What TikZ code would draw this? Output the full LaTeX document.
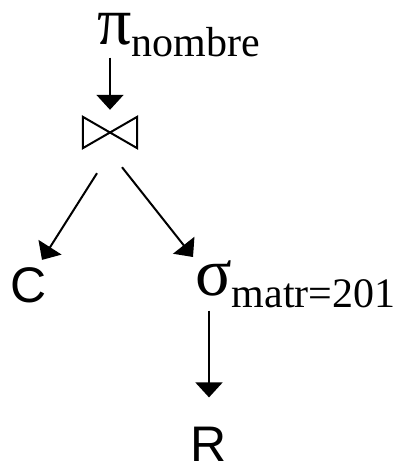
\documentclass[tikz,border=0pt]{standalone}
\usepackage{fontspec}
\setmainfont{Liberation Serif}
\newfontfamily\relfont{Liberation Sans}
\usetikzlibrary{arrows.meta,calc}

\newcommand{\opsym}{\fontsize{68}{68}\selectfont}
\newcommand{\opsub}[1]{\raisebox{-12pt}{\fontsize{42}{42}\selectfont #1}}
\newcommand{\relname}{\fontsize{50}{50}\selectfont\relfont}

\begin{document}
\begin{tikzpicture}[x=1pt, y=-1pt, >={Triangle[width=27pt,length=15pt]}]
    \useasboundingbox (0,0) rectangle (400,465);

    \node[anchor=base west, inner sep=0] (proj) at (97,45) {\opsym π\opsub{nombre}};
    \node[minimum width=54pt, minimum height=31pt, inner sep=0] (join) at (110,132.5) {};
    \draw[line width=2pt, line join=miter]
        (join.north west) -- (join.south west) -- (join.north east) -- (join.south east) -- cycle;
    \node[anchor=base, inner sep=0] (C) at (28.5,302) {\relname C};
    \node[anchor=base west, inner sep=0] (sel) at (195,295) {\opsym σ\opsub{matr=201}};
    \node[anchor=base, inner sep=0] (R) at (209,461) {\relname R};

    \draw[->, line width=2pt] (join |- proj.south) -- ($(join.north)+(0,-7)$);
    \draw[->, line width=2pt] ($(join.south)+(-13,25)$) -- ($(C.north)+(13.5,-7)$);
    \draw[->, line width=2pt] ($(join.south)+(12,19)$) -- ($(sel.north west)+(-2,-3)$);
    \draw[->, line width=2pt] ($(R |- sel.south)+(0,3)$) -- ($(R.north)+(0,-29)$);
\end{tikzpicture}
\end{document}
